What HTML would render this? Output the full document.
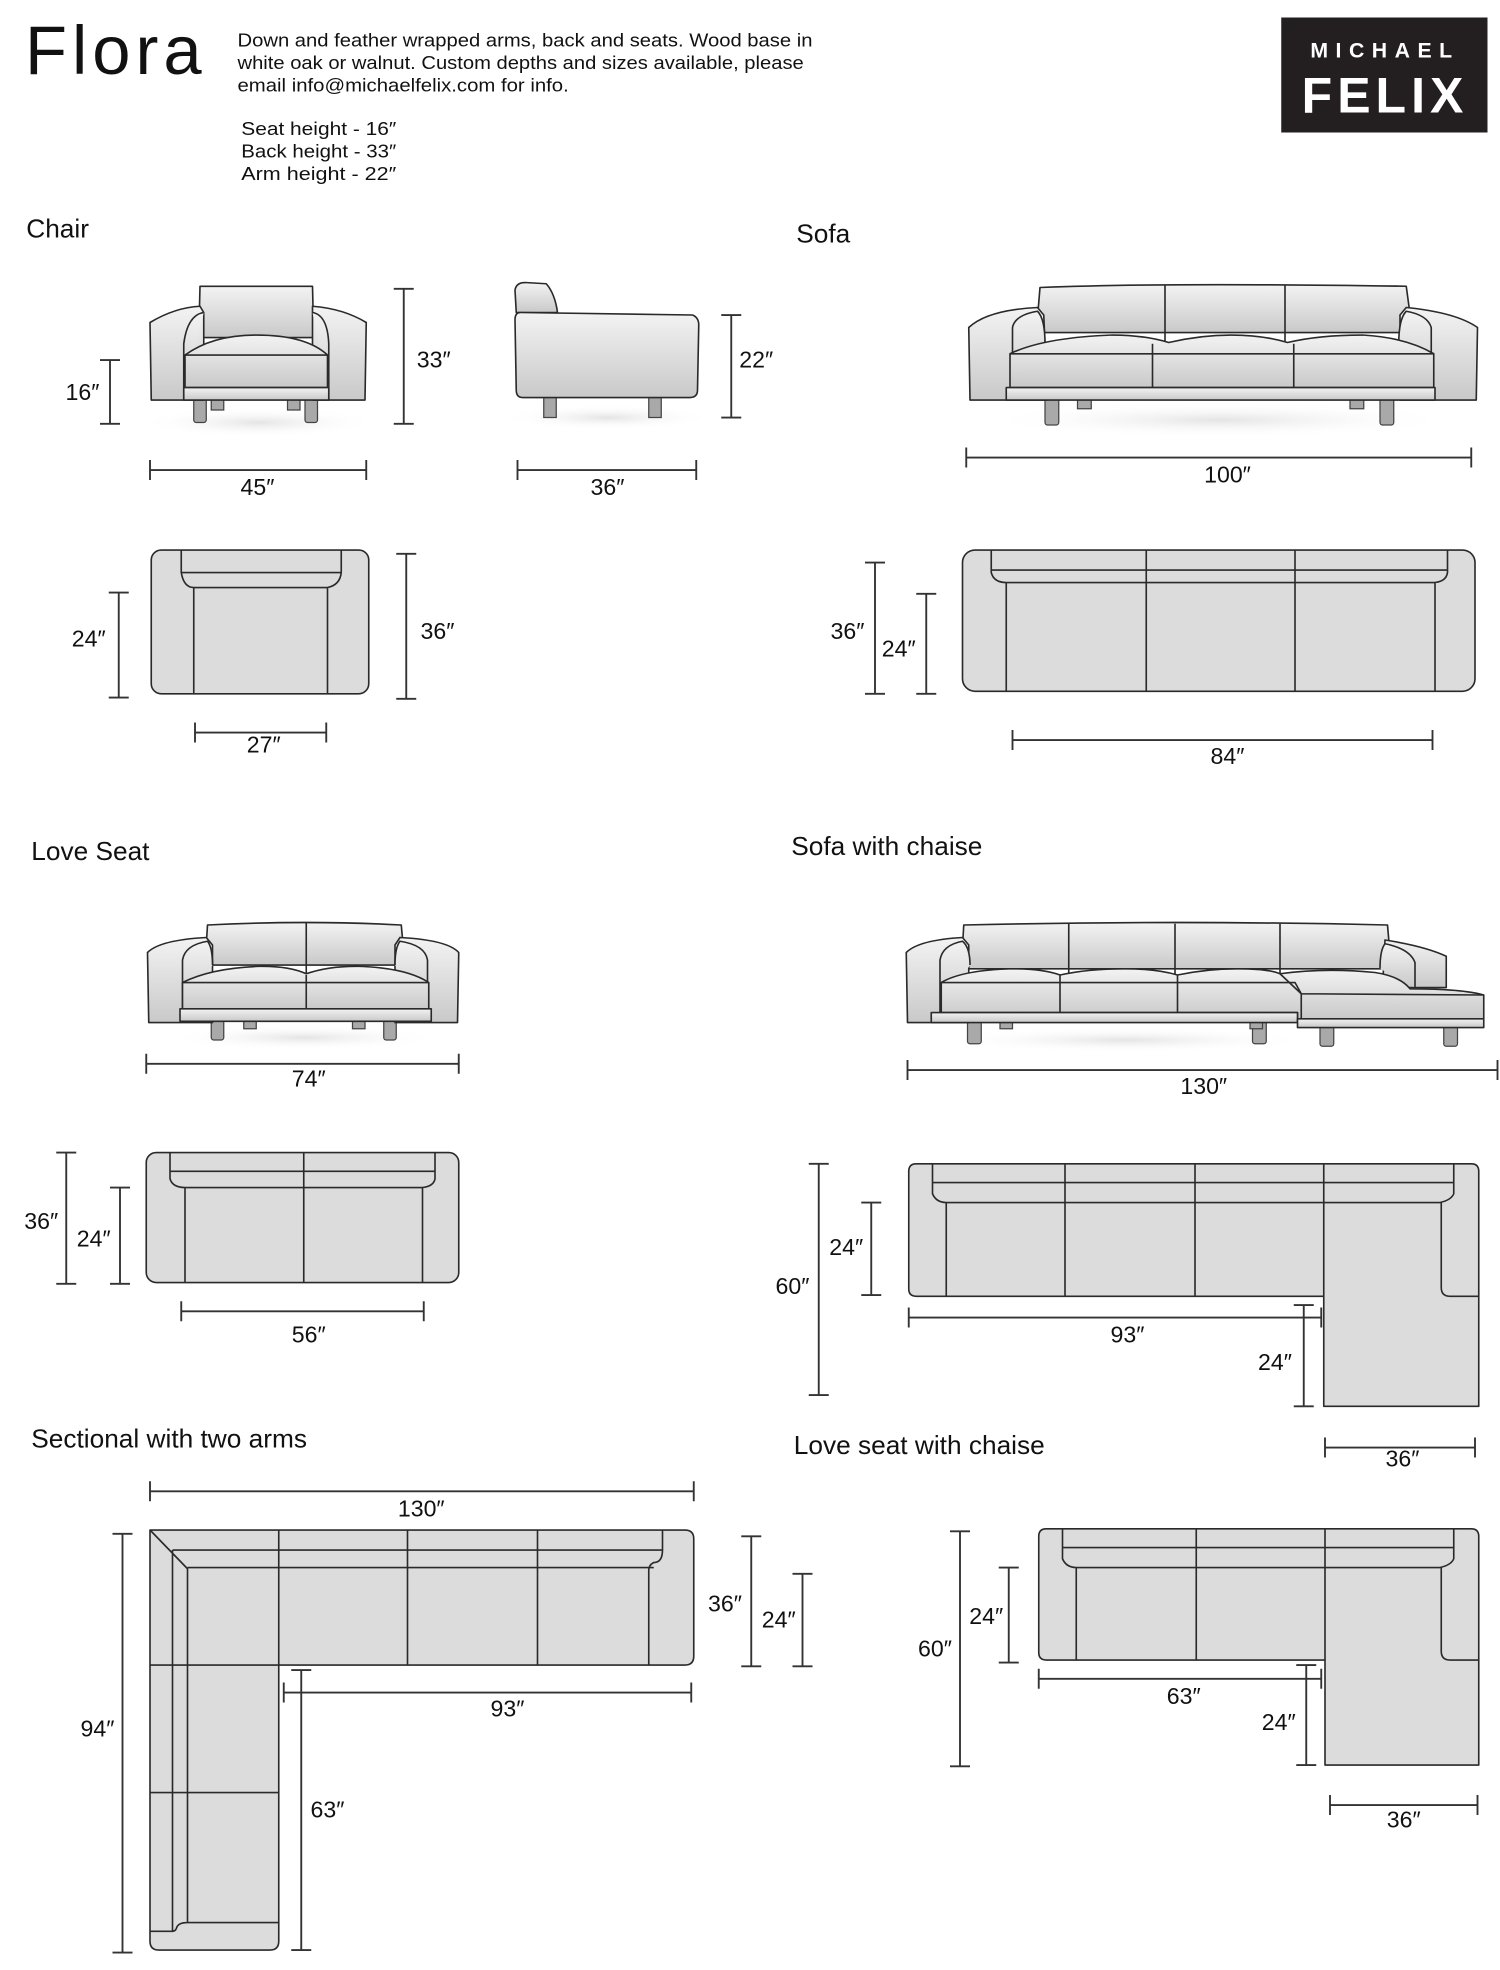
<!DOCTYPE html>
<html><head><meta charset="utf-8"><style>
html,body{margin:0;padding:0;background:#fff;}
svg{display:block;}
text{font-family:"Liberation Sans",sans-serif;fill:#111;}
.t{font-size:21px;}
.d{font-size:18.5px;text-anchor:middle;}
.f{fill:url(#g);stroke:#2a2a2a;stroke-width:1.3;stroke-linejoin:round;}
.p{fill:#dcdcdc;stroke:#2a2a2a;stroke-width:1.3;stroke-linejoin:round;}
.l{fill:none;stroke:#2a2a2a;stroke-width:1.3;}
.dim{stroke:#333;stroke-width:1.5;fill:none;}
.leg{fill:#a9a9a9;stroke:#444;stroke-width:1;}
</style></head><body>
<svg width="1500" height="1970" viewBox="0 0 1200 1576" xmlns="http://www.w3.org/2000/svg">
<defs>
<linearGradient id="g" x1="0" y1="0" x2="0" y2="1"><stop offset="0" stop-color="#f3f3f3"/><stop offset="1" stop-color="#c9c9c9"/></linearGradient>
<radialGradient id="sh" cx="0.5" cy="0.5" r="0.5"><stop offset="0" stop-color="#e4e4e4"/><stop offset="1" stop-color="#ffffff" stop-opacity="0"/></radialGradient>
</defs>
<rect width="1200" height="1576" fill="#fff"/>

<!-- header -->
<text x="20" y="59" style="font-size:55px;letter-spacing:4px">Flora</text>
<g style="font-size:15px">
<text x="190" y="37" textLength="460" lengthAdjust="spacingAndGlyphs">Down and feather wrapped arms, back and seats. Wood base in</text>
<text x="190" y="55" textLength="453" lengthAdjust="spacingAndGlyphs">white oak or walnut. Custom depths and sizes available, please</text>
<text x="190" y="73" textLength="265" lengthAdjust="spacingAndGlyphs">email info@michaelfelix.com for info.</text>
<text x="193" y="108" textLength="124" lengthAdjust="spacingAndGlyphs">Seat height -  16″</text>
<text x="193" y="126" textLength="124" lengthAdjust="spacingAndGlyphs">Back height - 33″</text>
<text x="193" y="144" textLength="124" lengthAdjust="spacingAndGlyphs">Arm height -  22″</text>
</g>
<rect x="1025" y="14" width="165" height="92" fill="#231f20"/>
<text x="1108" y="46" style="fill:#fff;font-size:17px;font-weight:bold;letter-spacing:6px;text-anchor:middle">MICHAEL</text>
<text x="1108" y="90" style="fill:#fff;font-size:40px;font-weight:bold;letter-spacing:4px;text-anchor:middle">FELIX</text>

<!-- titles -->
<text class="t" x="21" y="190">Chair</text>
<text class="t" x="637" y="194">Sofa</text>
<text class="t" x="25" y="688">Love Seat</text>
<text class="t" x="633" y="684">Sofa with chaise</text>
<text class="t" x="25" y="1158">Sectional with two arms</text>
<text class="t" x="635" y="1163">Love seat with chaise</text>

<!-- CHAIR FRONT -->
<ellipse cx="207" cy="338" rx="95" ry="12" fill="url(#sh)"/>
<rect class="leg" x="155" y="318" width="10" height="20" rx="2"/>
<rect class="leg" x="244" y="318" width="10" height="20" rx="2"/>
<rect class="leg" x="169" y="318" width="10" height="10"/>
<rect class="leg" x="230" y="318" width="10" height="10"/>
<path class="f" d="M160 229 L250 229 L251 270 L159 270 Z"/>
<path class="f" d="M120 258 Q140 246 160 245 L163 250 L163 320 L121 320 Z"/>
<path class="f" d="M250 245 Q275 247 293 258 L292 320 L250 320 L250 250 Z"/>
<path class="f" d="M147 320 L147 275 Q150 252 163 250"/>
<path class="f" d="M263 320 L263 275 Q262 252 250 250"/>
<path class="f" d="M148 284 Q170 268 205 268 Q245 268 262 284 L262 310 L148 310 Z"/>
<path class="l" d="M148 284 L262 284"/>
<rect class="f" x="147" y="310" width="116" height="10"/>
<path class="dim" d="M88 288 V339 M80 288 H96 M80 339 H96"/><text class="d" x="66" y="320">16″</text>
<path class="dim" d="M323 231 V339 M315 231 H331 M315 339 H331"/><text class="d" x="347" y="294">33″</text>
<path class="dim" d="M120 376 H293 M120 368 V384 M293 368 V384"/><text class="d" x="206" y="396">45″</text>
<!-- chair side -->
<ellipse cx="486" cy="334" rx="85" ry="10" fill="url(#sh)"/>
<rect class="leg" x="435" y="315" width="10" height="19"/>
<rect class="leg" x="519" y="315" width="10" height="19"/>
<path class="f" d="M413 250 L412 232 Q413 226 420 226 L437 227 Q444 235 446 250 Z"/>
<path class="f" d="M416 250 L554 252 Q559 254 559 260 L558 312 Q558 318 552 318 L418 318 Q413 318 413 312 L412 256 Q412 250 416 250 Z"/>
<path class="dim" d="M585 252 V334 M577 252 H593 M577 334 H593"/><text class="d" x="605" y="294">22″</text>
<path class="dim" d="M414 376 H557 M414 368 V384 M557 368 V384"/><text class="d" x="486" y="396">36″</text>
<!-- chair plan -->
<rect class="p" x="121" y="440" width="174" height="115" rx="8"/>
<path class="l" d="M145 440 V458 Q147 470 155 470 L262 470 Q272 468 273 458 V440 M145 458 H273 M155 470 V555 M262 470 V555"/>
<path class="dim" d="M95 474 V558 M87 474 H103 M87 558 H103"/><text class="d" x="71" y="517">24″</text>
<path class="dim" d="M325 443 V559 M317 443 H333 M317 559 H333"/><text class="d" x="350" y="511">36″</text>
<path class="dim" d="M156 586 H261 M156 578 V594 M261 578 V594"/><text class="d" x="211" y="602">27″</text>

<!-- SOFA FRONT -->
<ellipse cx="975" cy="336" rx="190" ry="14" fill="url(#sh)"/>
<rect class="leg" x="836" y="318" width="11" height="22" rx="2"/>
<rect class="leg" x="1104" y="318" width="11" height="22" rx="2"/>
<rect class="leg" x="862" y="318" width="11" height="9"/>
<rect class="leg" x="1080" y="318" width="11" height="9"/>
<path class="f" d="M832 230 Q930 226 1125 229 L1130 266 L829 266 Z"/>
<path class="l" d="M932 228 V300 M1028 228 V300"/>
<path class="f" d="M775 262 Q790 248 830 246 L835 252 L838 320 L776 320 Z"/>
<path class="f" d="M1125 246 Q1165 250 1182 262 L1181 320 L1120 320 L1120 252 Z"/>
<path class="f" d="M810 310 L810 262 Q812 252 830 249 Q836 255 836 275"/>
<path class="f" d="M1145 310 L1145 262 Q1142 252 1125 249 Q1119 255 1119 275"/>
<path class="f" d="M808 283 Q835 270 890 268 Q915 268 935 274 Q960 268 985 268 Q1010 268 1030 274 Q1055 268 1090 268 Q1125 270 1147 283 L1147 310 L808 310 Z"/>
<path class="l" d="M808 283 L922 283 L1035 283 L1147 283 M922 275 V310 M1035 275 V310"/>
<rect class="f" x="805" y="310" width="343" height="10"/>
<path class="dim" d="M773 366 H1177 M773 358 V374 M1177 358 V374"/><text class="d" x="982" y="386">100″</text>
<!-- sofa plan -->
<rect class="p" x="770" y="440" width="410" height="113" rx="10"/>
<path class="l" d="M793 440 V458 Q795 466 805 466 L1148 466 Q1157 465 1158 458 V440 M793 456 H1158 M917 440 V553 M1036 440 V553 M805 466 V553 M1148 466 V553"/>
<path class="dim" d="M700 450 V555 M692 450 H708 M692 555 H708"/><text class="d" x="678" y="511">36″</text>
<path class="dim" d="M741 475 V555 M733 475 H749 M733 555 H749"/><text class="d" x="719" y="525">24″</text>
<path class="dim" d="M810 592 H1146 M810 584 V600 M1146 584 V600"/><text class="d" x="982" y="611">84″</text>

<!-- LOVE SEAT FRONT -->
<ellipse cx="243" cy="830" rx="110" ry="10" fill="url(#sh)"/>
<rect class="leg" x="169" y="815" width="10" height="17" rx="2"/>
<rect class="leg" x="307" y="815" width="10" height="17" rx="2"/>
<rect class="leg" x="195" y="815" width="10" height="8"/>
<rect class="leg" x="282" y="815" width="10" height="8"/>
<path class="f" d="M166 740 Q245 736 321 740 L324 772 L164 772 Z"/>
<path class="l" d="M245 738 V790"/>
<path class="f" d="M118 762 Q128 752 165 750 L170 756 L170 818 L119 818 Z"/>
<path class="f" d="M320 750 Q358 752 367 762 L366 818 L316 818 L316 756 Z"/>
<path class="f" d="M146 808 L146 768 Q148 756 166 753 Q170 758 170 772"/>
<path class="f" d="M342 808 L342 768 Q340 756 320 753 Q316 758 316 772"/>
<path class="f" d="M146 786 Q170 774 210 773 Q232 773 245 779 Q262 773 285 773 Q325 774 343 786 L343 808 L146 808 Z"/>
<path class="l" d="M146 786 H343 M245 780 V808"/>
<rect class="f" x="144" y="807" width="201" height="10"/>
<path class="dim" d="M117 851 H367 M117 843 V859 M367 843 V859"/><text class="d" x="247" y="869">74″</text>
<!-- love plan -->
<rect class="p" x="117" y="922" width="250" height="104" rx="8"/>
<path class="l" d="M136 922 V943 Q138 950 148 950 L338 950 Q347 949 348 943 V922 M136 937 H348 M243 922 V1026 M148 950 V1026 M338 950 V1026"/>
<path class="dim" d="M53 922 V1027 M45 922 H61 M45 1027 H61"/><text class="d" x="33" y="983">36″</text>
<path class="dim" d="M96 950 V1027 M88 950 H104 M88 1027 H104"/><text class="d" x="75" y="997">24″</text>
<path class="dim" d="M145 1049 H339 M145 1041 V1057 M339 1041 V1057"/><text class="d" x="247" y="1074">56″</text>

<!-- SOFA WITH CHAISE FRONT -->
<ellipse cx="900" cy="832" rx="150" ry="10" fill="url(#sh)"/>
<rect class="leg" x="774" y="815" width="11" height="20" rx="2"/>
<rect class="leg" x="1002" y="815" width="11" height="20" rx="2"/>
<rect class="leg" x="800" y="815" width="10" height="8"/>
<rect class="leg" x="1000" y="815" width="10" height="8"/>
<rect class="leg" x="1056" y="818" width="11" height="19" rx="2"/>
<rect class="leg" x="1155" y="818" width="11" height="19" rx="2"/>
<path class="f" d="M771 740 Q940 736 1110 740 L1113 775 L769 775 Z"/>
<path class="l" d="M855 739 V785 M940 739 V785 M1024 739 V783"/>
<path class="f" d="M725 762 Q735 752 770 750 L775 756 L775 818 L726 818 Z"/>
<path class="f" d="M752 810 L752 768 Q754 756 770 753 Q776 758 776 772"/>
<path class="f" d="M1108 752 Q1140 757 1157 765 L1157 790 L1106 790 Z"/>
<path class="f" d="M1132 790 L1132 770 Q1128 759 1108 755 Q1104 760 1104 775"/>
<path class="f" d="M753 786 Q770 776 810 775 Q835 775 848 780 Q870 775 900 775 Q925 775 942 780 Q965 775 990 775 Q1015 775 1024 779 Q1060 774 1100 778 Q1120 781 1128 791 Q1170 791 1187 796 L1187 815 L1038 815 L1038 810 L753 810 Z"/>
<path class="l" d="M753 786 H1036 L1041 795 L1187 796 M848 780 V810 M942 780 V810 M1024 779 L1041 795 V815"/>
<rect class="f" x="745" y="810" width="293" height="8"/>
<rect class="f" x="1038" y="815" width="149" height="7"/>
<path class="dim" d="M726 856 H1198 M726 848 V864 M1198 848 V864"/><text class="d" x="963" y="875">130″</text>
<!-- chaise plan -->
<path class="p" d="M733 931 H1177 Q1183 931 1183 937 V1125 H1059 V1037 H733 Q727 1037 727 1031 V937 Q727 931 733 931 Z"/>
<path class="l" d="M746 931 V955 Q749 962 757 962 L1152 962 Q1161 960 1163 955 V931 M746 946 H1163 M852 931 V1037 M956 931 V1037 M1059 931 V1037 M757 962 V1037 M1153 962 V1030 Q1153 1037 1160 1037 L1183 1037"/>
<path class="dim" d="M655 931 V1116 M647 931 H663 M647 1116 H663"/><text class="d" x="634" y="1035">60″</text>
<path class="dim" d="M697 962 V1036 M689 962 H705 M689 1036 H705"/><text class="d" x="677" y="1004">24″</text>
<path class="dim" d="M727 1054 H1057 M727 1046 V1062 M1057 1046 V1062"/><text class="d" x="902" y="1074">93″</text>
<path class="dim" d="M1043 1044 V1125 M1035 1044 H1051 M1035 1125 H1051"/><text class="d" x="1020" y="1096">24″</text>
<path class="dim" d="M1060 1158 H1180 M1060 1150 V1166 M1180 1150 V1166"/><text class="d" x="1122" y="1173">36″</text>

<!-- LOVE SEAT WITH CHAISE PLAN -->
<path class="p" d="M837 1223 H1177 Q1183 1223 1183 1229 V1412 H1060 V1328 H837 Q831 1328 831 1322 V1229 Q831 1223 837 1223 Z"/>
<path class="l" d="M850 1223 V1247 Q853 1254 861 1254 L1152 1254 Q1161 1252 1163 1247 V1223 M850 1238 H1163 M957 1223 V1328 M1060 1223 V1328 M861 1254 V1328 M1153 1254 V1321 Q1153 1328 1160 1328 L1183 1328"/>
<path class="dim" d="M768 1225 V1413 M760 1225 H776 M760 1413 H776"/><text class="d" x="748" y="1325">60″</text>
<path class="dim" d="M807 1254 V1330 M799 1254 H815 M799 1330 H815"/><text class="d" x="789" y="1299">24″</text>
<path class="dim" d="M831 1343 H1057 M831 1335 V1351 M1057 1335 V1351"/><text class="d" x="947" y="1363">63″</text>
<path class="dim" d="M1045 1332 V1412 M1037 1332 H1053 M1037 1412 H1053"/><text class="d" x="1023" y="1384">24″</text>
<path class="dim" d="M1064 1444 H1182 M1064 1436 V1452 M1182 1436 V1452"/><text class="d" x="1123" y="1462">36″</text>

<!-- SECTIONAL PLAN -->
<path class="p" d="M120 1224 H548 Q555 1224 555 1231 V1325 Q555 1332 548 1332 H223 V1553 Q223 1560 216 1560 H127 Q120 1560 120 1553 Z"/>
<path class="l" d="M120 1224 L150 1255 M138 1240 H530 Q530 1250 523 1250 Q519 1252 519 1256 M150 1254 H523 M138 1240 V1545 M150 1254 V1538 M223 1224 V1332 M326 1224 V1332 M430 1224 V1332 M530 1224 V1240 M519 1256 V1332 M120 1332 H223 M120 1434 H223 M150 1538 H223 M150 1538 Q142 1538 141 1543 Q140 1545 138 1545 H120"/>
<path class="dim" d="M120 1193 H555 M120 1185 V1201 M555 1185 V1201"/><text class="d" x="337" y="1213">130″</text>
<path class="dim" d="M98 1227 V1562 M90 1227 H106 M90 1562 H106"/><text class="d" x="78" y="1389">94″</text>
<path class="dim" d="M601 1229 V1333 M593 1229 H609 M593 1333 H609"/><text class="d" x="580" y="1289">36″</text>
<path class="dim" d="M642 1259 V1333 M634 1259 H650 M634 1333 H650"/><text class="d" x="623" y="1302">24″</text>
<path class="dim" d="M227 1354 H553 M227 1346 V1362 M553 1346 V1362"/><text class="d" x="406" y="1373">93″</text>
<path class="dim" d="M241 1336 V1560 M233 1336 H249 M233 1560 H249"/><text class="d" x="262" y="1454">63″</text>
</svg>
</body></html>
